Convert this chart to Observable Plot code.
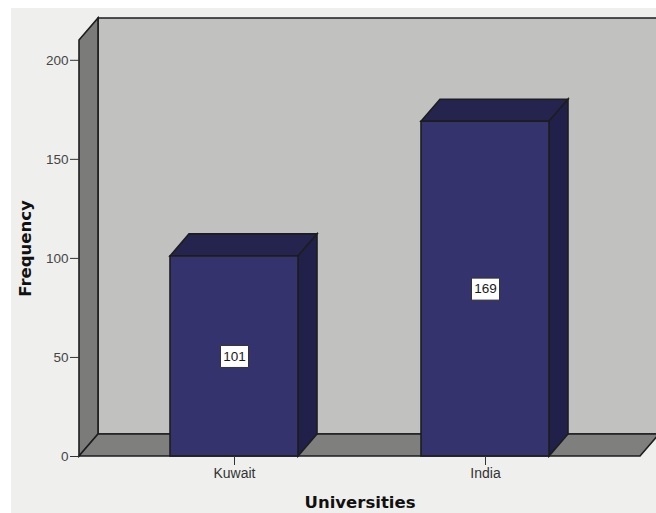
<!DOCTYPE html>
<html>
<head>
<meta charset="utf-8">
<script src="https://cdn.jsdelivr.net/npm/d3@7"></script>
<script src="https://cdn.jsdelivr.net/npm/@observablehq/plot@0.6"></script>
<style>
  html, body { margin: 0; padding: 0; background: #ffffff; }
  #chart { position: absolute; left: 0; top: 0; }
</style>
</head>
<body>
<div id="chart"></div>
<script>
// Frequency of respondents by university
const universities = ["Kuwait", "India"];
const frequencies = [101, 169];
const yTicks = [0, 50, 100, 150, 200];
const yMax = 210;

const rows = universities.map((u, i) => ({university: u, frequency: frequencies[i]}));

// Pixel offset of the extruded (back) side of every 3D element
const DX = 19, DY = -22;

const OUTLINE = "#1d1d1f";
const pts = (a) => a.map((p) => p.join(",")).join(" ");

// Frame rectangle in pixels, from the plot dimensions
const frameOf = (d) => ({
  left: d.marginLeft,
  right: d.width - d.marginRight,
  top: d.marginTop,
  bottom: d.height - d.marginBottom
});

// Panel background, back wall, left wall and floor of the 3D box
function room(index, scales, values, dims) {
  const f = frameOf(dims);
  const {y} = scales;
  const y0 = y(0), yTop = y(yMax);
  const g = d3.create("svg:g");
  g.append("rect")
    .attr("x", 11).attr("y", 8)
    .attr("width", dims.width - 11).attr("height", dims.height - 8)
    .attr("fill", "#eff0ed");
  const shape = g.append("g")
    .attr("stroke", OUTLINE).attr("stroke-width", 1.6).attr("stroke-linejoin", "miter");
  // back wall
  shape.append("polygon")
    .attr("points", pts([[f.left + DX, yTop + DY], [dims.width + 30, yTop + DY], [dims.width + 30, y0 + DY], [f.left + DX, y0 + DY]]))
    .attr("fill", "#c1c2bf");
  // left wall
  shape.append("polygon")
    .attr("points", pts([[f.left, yTop], [f.left + DX, yTop + DY], [f.left + DX, y0 + DY], [f.left, y0]]))
    .attr("fill", "#7b7b79");
  // floor
  shape.append("polygon")
    .attr("points", pts([[f.left, y0], [f.left + DX, y0 + DY], [f.right + DX, y0 + DY], [f.right, y0]]))
    .attr("fill", "#7f807e");
  return g.node();
}

// Top and right side faces of each bar
function barDepth(index, scales, values, dims) {
  const {x, y} = scales;
  const bw = typeof x.bandwidth === "function" ? x.bandwidth() : x.bandwidth;
  const g = d3.create("svg:g")
    .attr("stroke", OUTLINE).attr("stroke-width", 1.6).attr("stroke-linejoin", "miter");
  for (const d of rows) {
    const x1 = x(d.university), x2 = x1 + bw;
    const yt = y(d.frequency), y0 = y(0);
    g.append("polygon")
      .attr("points", pts([[x1, yt], [x1 + DX, yt + DY], [x2 + DX, yt + DY], [x2, yt]]))
      .attr("fill", "#25244f");
    g.append("polygon")
      .attr("points", pts([[x2, yt], [x2 + DX, yt + DY], [x2 + DX, y0 + DY], [x2, y0]]))
      .attr("fill", "#21204a");
  }
  return g.node();
}

// Rectangular frame drawn behind each value label
const labelBox = {
  draw(context) {
    context.moveTo(-14, -11);
    context.lineTo(14, -11);
    context.lineTo(14, 11);
    context.lineTo(-14, 11);
    context.closePath();
  }
};

const chart = Plot.plot({
  width: 656,
  height: 513,
  marginLeft: 79,
  marginRight: 16,
  marginTop: 40,
  marginBottom: 57,
  style: {
    fontFamily: "'Liberation Sans', Arial, sans-serif",
    background: "#ffffff",
    overflow: "visible"
  },
  x: {domain: universities, paddingInner: 0.492, paddingOuter: 0.36},
  y: {domain: [0, yMax]},
  marks: [
    room,
    barDepth,
    Plot.barY(rows, {
      x: "university", y: "frequency",
      fill: "#34336e", stroke: OUTLINE, strokeWidth: 1.6
    }),
    Plot.axisY({
      ticks: yTicks, tickSize: 9, tickPadding: 2,
      fontSize: 13.5, color: "#454545", stroke: "#333", label: null
    }),
    Plot.axisX({
      tickSize: 9, tickPadding: 3,
      fontSize: 14, color: "#333", stroke: "#333", label: null
    }),
    Plot.dot(rows, {
      x: "university", y: (d) => d.frequency / 2,
      symbol: labelBox, fill: "#ffffff", stroke: "#333", strokeWidth: 1
    }),
    Plot.text(rows, {
      x: "university", y: (d) => d.frequency / 2,
      text: (d) => String(d.frequency),
      fontSize: 13.5, fill: "#1a1a1a"
    }),
    Plot.text(["Frequency"], {
      frameAnchor: "left", textAnchor: "middle", dx: -54, rotate: -90,
      fontFamily: "'DejaVu Sans', sans-serif", fontWeight: "bold",
      fontSize: 16.5, fill: "#111"
    }),
    Plot.text(["Universities"], {
      frameAnchor: "bottom", dy: 46, lineAnchor: "middle",
      fontFamily: "'DejaVu Sans', sans-serif", fontWeight: "bold",
      fontSize: 16.5, fill: "#111"
    })
  ]
});

document.getElementById("chart").append(chart);
</script>
</body>
</html>
